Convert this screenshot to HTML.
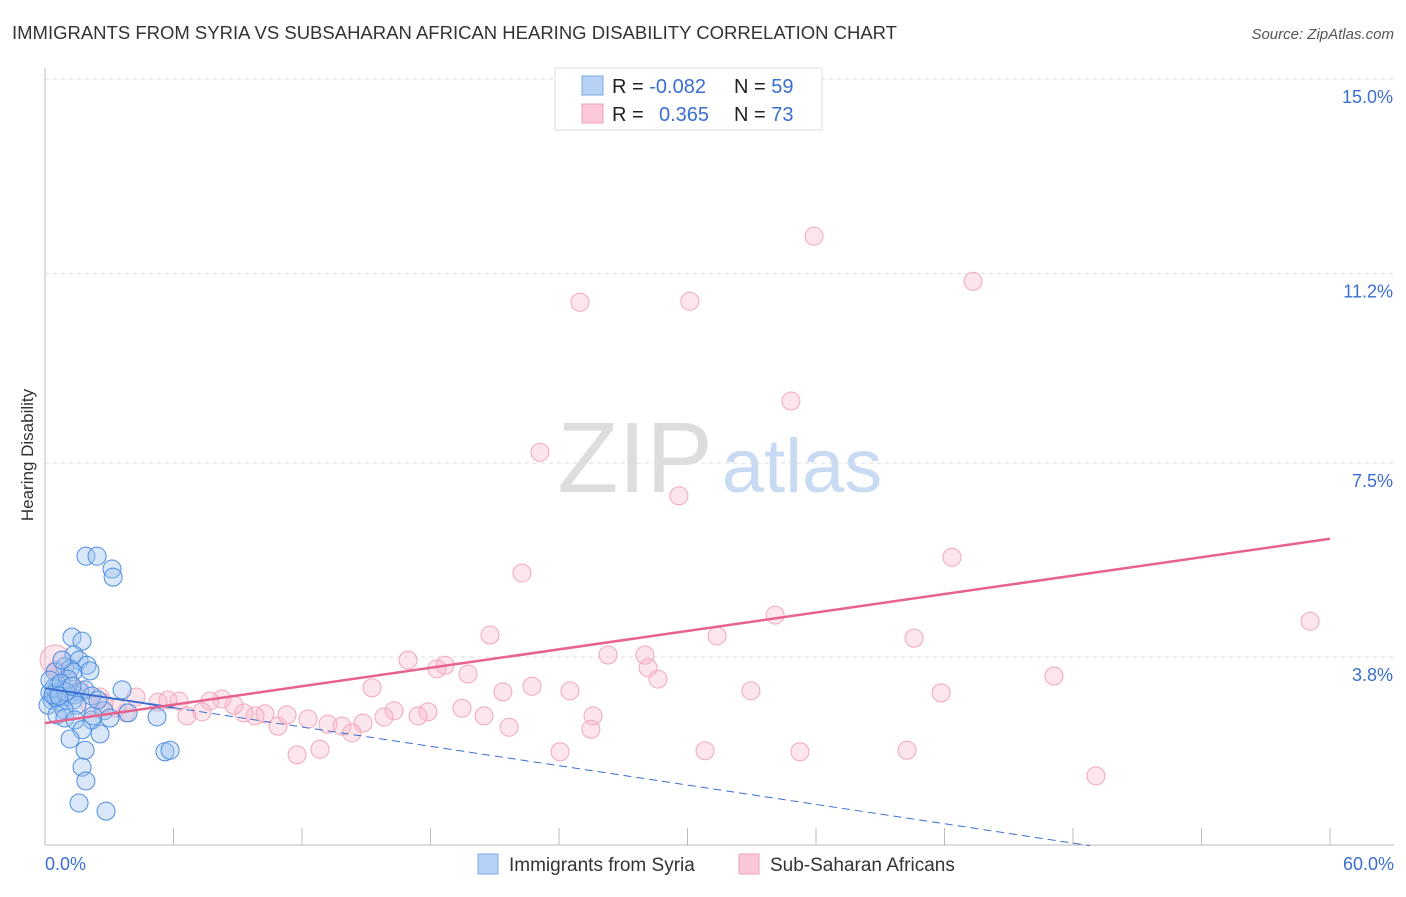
<!DOCTYPE html>
<html><head><meta charset="utf-8"><style>
body{margin:0;background:#fff;font-family:"Liberation Sans",sans-serif}
svg text{font-family:"Liberation Sans",sans-serif}
</style></head><body>
<svg id="chart" width="1406" height="892">
<text x="12" y="39" font-size="18" fill="#333" textLength="885" lengthAdjust="spacingAndGlyphs">IMMIGRANTS FROM SYRIA VS SUBSAHARAN AFRICAN HEARING DISABILITY CORRELATION CHART</text>
<text x="1394" y="39" font-size="15" fill="#555" font-style="italic" text-anchor="end">Source: ZipAtlas.com</text>
<text x="33" y="455" font-size="17" fill="#333" text-anchor="middle" transform="rotate(-90 33 455)">Hearing Disability</text>
<g><text x="635" y="492" font-size="100" fill="#ddd" font-family="Liberation Serif" text-anchor="middle">ZIP</text><text x="802" y="492" font-size="76" fill="#c8dbf2" text-anchor="middle">atlas</text></g>
<g id="grid"></g><g id="marks"></g>
<g>
<rect x="555" y="68" width="267" height="62" fill="#fff" stroke="#ddd"/>
<rect x="582" y="76" width="21" height="19" fill="#b8d2f5" stroke="#7aa8e8"/>
<rect x="582" y="104" width="21" height="19" fill="#fac8d6" stroke="#f0a0b8"/>
<text x="612" y="93" font-size="20" fill="#222">R = <tspan fill="#3a6fd0">-0.082</tspan><tspan x="734">N = </tspan><tspan fill="#3a6fd0">59</tspan></text>
<text x="612" y="121" font-size="20" fill="#222">R = <tspan x="659" fill="#3a6fd0">0.365</tspan><tspan x="734">N = </tspan><tspan fill="#3a6fd0">73</tspan></text>
</g>
<g>
<rect x="478" y="854" width="20" height="20" fill="#b8d2f5" stroke="#7aa8e8"/>
<text x="509" y="871" font-size="19" fill="#333">Immigrants from Syria</text>
<rect x="739" y="854" width="20" height="20" fill="#fac8d6" stroke="#f0a0b8"/>
<text x="770" y="871" font-size="19" fill="#333">Sub-Saharan Africans</text>
</g>
</svg>
<script>
const yTicks=[3.8,7.5,11.2,15.0];
const yTickLabels=["3.8%","7.5%","11.2%","15.0%"];
const xTickVals=[0,6,12,18,24,30,36,42,48,54,60];
const xEndLabels=["0.0%","60.0%"];
const syriaX=[1.91,2.43,3.13,3.18,1.26,1.73,1.35,1.59,1.96,0.93,1.17,1.31,1.07,2.10,0.47,0.61,0.79,0.23,0.33,0.14,0.51,0.70,1.03,1.40,1.63,1.87,2.19,3.60,1.31,1.49,0.89,0.56,0.93,1.40,2.19,1.73,1.17,2.57,2.75,3.88,5.23,1.87,1.73,1.91,1.59,2.85,5.60,5.84,0.79,0.42,0.23,0.37,0.75,0.98,0.65,1.26,2.24,3.03,2.47];
const syriaY=[5.68,5.68,5.43,5.27,4.10,4.02,3.75,3.65,3.55,3.52,3.48,3.42,3.28,3.44,3.42,3.16,3.07,3.01,2.87,2.77,2.91,2.83,2.93,2.97,3.03,3.07,2.95,3.07,2.87,2.77,2.68,2.58,2.52,2.48,2.48,2.29,2.11,2.21,2.66,2.62,2.54,1.89,1.56,1.29,0.86,0.70,1.86,1.89,3.65,3.11,3.26,2.97,3.20,3.03,2.95,3.14,2.56,2.52,2.87];
const afrX=[35.91,43.33,24.98,30.11,34.83,23.11,29.60,42.35,22.27,59.07,34.09,20.78,31.38,40.58,16.95,18.68,28.01,26.29,18.30,19.75,28.16,28.62,47.11,15.27,22.74,21.38,24.51,32.96,41.84,19.47,16.30,17.88,17.42,20.50,25.59,25.49,21.67,15.83,13.21,13.87,14.85,14.33,10.88,12.28,11.30,10.27,9.81,9.29,8.82,8.26,7.70,7.33,6.63,6.26,5.74,5.28,4.25,3.78,3.36,2.75,2.10,1.63,1.17,0.70,0.33,0.51,2.57,30.82,35.25,40.25,24.05,12.84,11.77,49.07];
const afrY=[11.93,11.05,10.64,10.66,8.71,7.71,6.86,5.66,5.35,4.41,4.53,4.14,4.12,4.08,3.65,3.55,3.75,3.75,3.48,3.38,3.50,3.28,3.34,3.11,3.14,3.03,3.05,3.05,3.01,2.71,2.66,2.64,2.56,2.56,2.56,2.30,2.34,2.54,2.40,2.36,2.42,2.23,2.36,2.50,2.58,2.60,2.56,2.62,2.77,2.89,2.85,2.64,2.56,2.85,2.87,2.83,2.93,2.62,2.71,2.81,2.77,3.07,3.22,3.42,3.75,3.46,2.93,1.88,1.86,1.89,1.86,1.91,1.80,1.39];
const afrTrend=[2.42,6.02];
const syriaTrend=[3.10,-0.063];
const X=v=>45+v*(1285/60), Y=v=>847-v*51.2;
const NS="http://www.w3.org/2000/svg";
function mk(p,t,a){const e=document.createElementNS(NS,t);for(const k in a)e.setAttribute(k,a[k]);p.appendChild(e);return e;}
const grid=document.getElementById('grid'),marks=document.getElementById('marks');
const ax=mk(grid,'line',{x1:45,y1:68,x2:45,y2:845,stroke:'#bbb'});

const bx=mk(grid,'line',{x1:45,y1:845,x2:1394,y2:845,stroke:'#bbb'});

yTicks.forEach((v,i)=>{
 const off=(v===3.8?4.6:0);
 const g=mk(grid,'line',{x1:45,x2:1394,y1:Y(v)+off,y2:Y(v)+off,stroke:'#ddd','stroke-dasharray':'4,4'});
 
 const t=mk(grid,'text',{x:1393,y:Y(v)+off+24,'font-size':18,fill:'#3a6fd0','text-anchor':'end'});
 t.textContent=yTickLabels[i];
 
});
xTickVals.forEach(v=>{const l=mk(grid,'line',{x1:X(v),x2:X(v),y1:828,y2:845,stroke:'#bbb'});
 });
[[0,45,'start'],[1,1394,'end']].forEach(([i,x,a])=>{const t=mk(grid,'text',{x:x,y:870,'font-size':18,fill:'#3a6fd0','text-anchor':a});t.textContent=xEndLabels[i];
 });
afrX.forEach((x,i)=>{const big=(i===64);const c=mk(marks,'circle',{cx:X(x)+(big?3:0),cy:Y(afrY[i])+(big?5:0),r:big?15:9,fill:'rgba(248,180,200,0.35)',stroke:'#f2a6bd','stroke-width':1});
 });
syriaX.forEach((x,i)=>{const c=mk(marks,'circle',{cx:X(x),cy:Y(syriaY[i]),r:9,fill:'rgba(160,196,240,0.4)',stroke:'#4a8ee0','stroke-width':1});
 });
const sy=v=>syriaTrend[0]+syriaTrend[1]*v;
const s1=mk(marks,'line',{x1:X(0),y1:Y(sy(0)),x2:X(6),y2:Y(sy(6)),stroke:'#3a6fd0','stroke-width':2});

const s2=mk(marks,'line',{x1:X(6),y1:Y(sy(6)),x2:X(48.8),y2:Y(sy(48.8)),stroke:'#3a6fd0','stroke-width':1,'stroke-dasharray':'8,5'});

const p=mk(marks,'line',{x1:X(0),y1:Y(afrTrend[0]),x2:X(60),y2:Y(afrTrend[1]),stroke:'#e8628e','stroke-width':2.5});

</script>
</body></html>
